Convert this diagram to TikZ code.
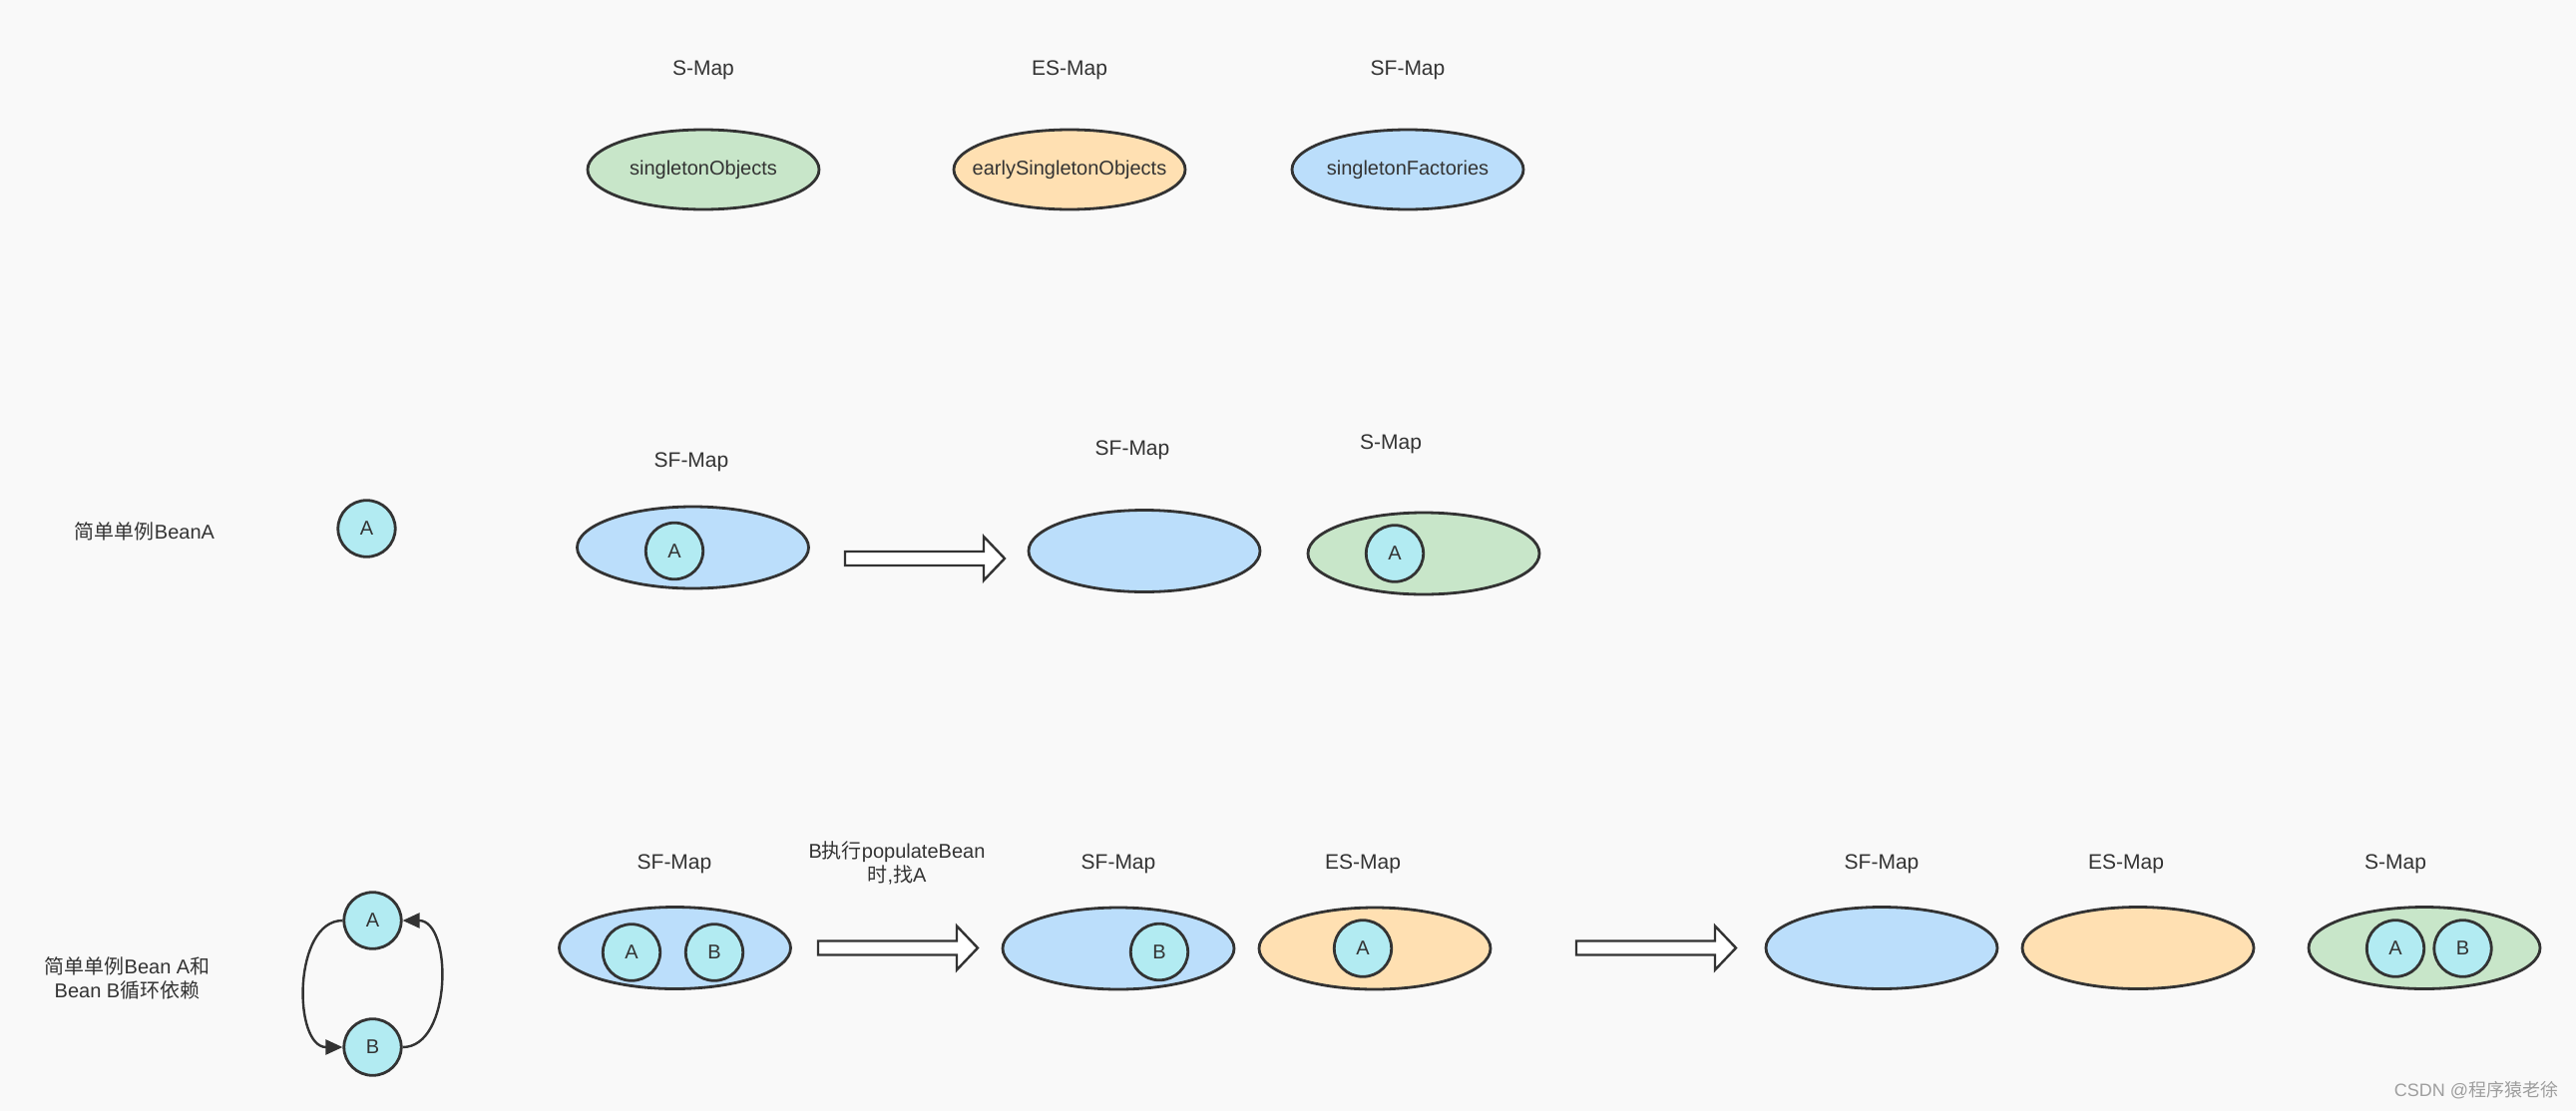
\documentclass[tikz,border=0pt]{standalone}
\usepackage{fontspec}
\setmainfont{Liberation Sans}
\newfontfamily\cjk{Noto Sans CJK SC}
\usetikzlibrary{shapes.geometric,arrows.meta}
\definecolor{bg}{HTML}{F9F9F9}
\definecolor{ln}{HTML}{333333}
\definecolor{gfill}{HTML}{C8E6C9}
\definecolor{ofill}{HTML}{FFE0B2}
\definecolor{bfill}{HTML}{BBDEFB}
\definecolor{cfill}{HTML}{B2EBF2}
\definecolor{wm}{HTML}{9E9E9E}
\begin{document}
\begin{tikzpicture}[x=0.5pt,y=-0.5pt,
  font=\fontsize{10pt}{12pt}\selectfont,
  mapbox/.style={ellipse, draw=ln, line width=1.4pt, minimum width=116pt, minimum height=41pt, inner sep=0pt, text=ln},
  topmap/.style={mapbox, minimum height=40pt},
  gmap/.style={mapbox, fill=gfill},
  omap/.style={mapbox, fill=ofill},
  bmap/.style={mapbox, fill=bfill},
  bean/.style={ellipse, draw=ln, line width=1.4pt, fill=cfill, minimum width=28.7pt, minimum height=28.3pt, inner sep=0pt, text=ln},
  lbl/.style={text=ln, inner sep=0pt, font=\fontsize{10.5pt}{12pt}\selectfont},
  note/.style={text=ln, inner sep=0pt, align=center},
  inlbl/.style={label={[text=ln, inner sep=0pt]center:#1}},
  cyc/.style={draw=ln, line width=1.2pt, -{Triangle[length=8.5pt,width=7.5pt]}},
  pics/blockarr/.style={code={
    \draw[fill=white, draw=ln, line width=1.2pt, line join=miter]
      (0,-7) -- (139,-7) -- (139,-22) -- (160,0) -- (139,22) -- (139,7) -- (0,7) -- cycle;}}
]
\useasboundingbox (0,0) rectangle (2582,1114);
\fill[bg] (0,0) rectangle (2582,1114);

% ---- top row: legend ----
\node[lbl] (tS) at (705,70) {S-Map};
\node[lbl] (tES) at (1072,70) {ES-Map};
\node[lbl] (tSF) at (1411,70) {SF-Map};
\node[topmap, fill=gfill, inlbl=singletonObjects] (so) at (705,170) {};
\node[topmap, fill=ofill, inlbl=earlySingletonObjects] (eso) at (1072,170) {};
\node[topmap, fill=bfill, inlbl=singletonFactories] (sf) at (1411,170) {};

% ---- second row: simple singleton ----
\node[note] (t1) at (145,533) {{\cjk 简单单例}BeanA};
\node[bean] (a0) at (367.5,530) {A};
\node[lbl] (l21) at (693,463) {SF-Map};
\node[bmap] (m21) at (694.5,549) {};
\node[bean] (a21) at (676,552.5) {A};
\pic at (847,560) {blockarr};
\node[lbl] (l22) at (1135,451) {SF-Map};
\node[bmap] (m22) at (1147,552.5) {};
\node[lbl] (l23) at (1394,445) {S-Map};
\node[gmap] (m23) at (1427,555) {};
\node[bean] (a23) at (1398,555) {A};

% ---- third row: circular dependency ----
\node[note] (t2) at (127.5,981) {{\cjk 简单单例}Bean A{\cjk 和}\\Bean B{\cjk 循环依赖}};
\node[bean] (ca) at (373.5,923) {A};
\node[bean] (cb) at (373.5,1050) {B};
\draw[cyc] (ca.west) .. controls ([xshift=-25pt]ca.west) and ([xshift=-25pt]cb.west) .. (cb.west);
\draw[cyc] (cb.east) .. controls ([xshift=25pt]cb.east) and ([xshift=25pt]ca.east) .. (ca.east);

\node[lbl] (l31) at (676,866) {SF-Map};
\node[bmap] (m31) at (676.5,950.5) {};
\node[bean] (a31) at (633,955) {A};
\node[bean] (b31) at (716,955) {B};
\node[note] (t3) at (899,865) {B{\cjk 执行}populateBean\\{\cjk 时},{\cjk 找}A};
\pic at (820,950.5) {blockarr};

\node[lbl] (l32) at (1121,866) {SF-Map};
\node[bmap] (m32) at (1121,951) {};
\node[bean] (b32) at (1162,954.5) {B};
\node[lbl] (l33) at (1366,866) {ES-Map};
\node[omap] (m33) at (1378,951) {};
\node[bean] (a33) at (1366,951) {A};
\pic at (1580,950.5) {blockarr};

\node[lbl] (l34) at (1886,866) {SF-Map};
\node[bmap] (m34) at (1886,950.5) {};
\node[lbl] (l35) at (2131,866) {ES-Map};
\node[omap] (m35) at (2143,950.5) {};
\node[lbl] (l36) at (2401,866) {S-Map};
\node[gmap] (m36) at (2430,950.5) {};
\node[bean] (a36) at (2401,951) {A};
\node[bean] (b36) at (2468.5,951) {B};

% watermark
\node[text=wm, inner sep=0pt, font=\fontsize{9pt}{10pt}\selectfont] (wmk) at (2482,1093) {CSDN @{\cjk 程序猿老徐}};
\end{tikzpicture}
\end{document}
